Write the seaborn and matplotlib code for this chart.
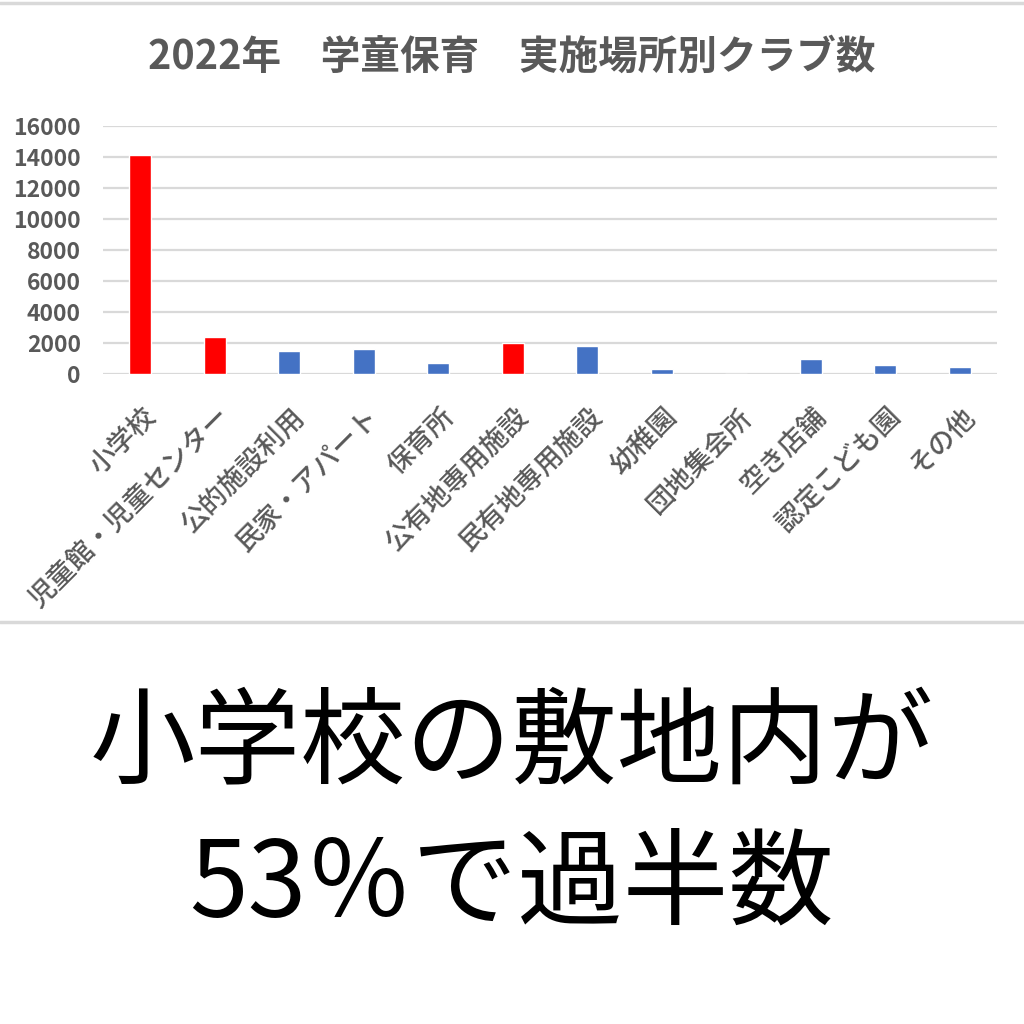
import matplotlib
matplotlib.use("Agg")
import matplotlib.pyplot as plt
import matplotlib.transforms as mtransforms
from matplotlib.lines import Line2D
import seaborn as sns
import pandas as pd

# ---- data ----
categories = ["小学校", "児童館・児童センター", "公的施設利用", "民家・アパート", "保育所",
              "公有地専用施設", "民有地専用施設", "幼稚園", "団地集会所", "空き店舗",
              "認定こども園", "その他"]
clubs = [14100, 2360, 1460, 1590, 690, 1990, 1800, 300, 10, 1000, 600, 440]
highlighted = ["小学校", "児童館・児童センター", "公有地専用施設"]
yticks = [0, 2000, 4000, 6000, 8000, 10000, 12000, 14000, 16000]
title = "2022年\u3000学童保育\u3000実施場所別クラブ数"
caption_line1 = "小学校の敷地内が"
caption_line2 = "53％で過半数"

# ---- style ----
sns.set_theme(style="white")
plt.rcParams['font.family'] = ['Noto Sans CJK JP', 'DejaVu Sans']
RED = "#FF0000"
BLUE = "#4472C4"
GRAY_TXT = "#595959"
GRID = "#D9D9D9"

palette = {c: (RED if c in highlighted else BLUE) for c in categories}
df = pd.DataFrame({"category": categories, "clubs": clubs})

fig = plt.figure(figsize=(10.24, 10.24), dpi=100)
fig.patch.set_facecolor("white")
ax = fig.add_axes([103/1024, 1 - 374/1024, (997 - 103)/1024, (374 - 126)/1024])

sns.barplot(data=df, x="category", y="clubs", hue="category", palette=palette,
            width=0.30, legend=False, ax=ax, saturation=1)

ax.set_ylim(0, 16000)
ax.set_xlim(-0.5, len(categories) - 0.5)
ax.set_yticks(yticks)
ax.set_yticklabels([str(v) for v in yticks])
ax.yaxis.grid(True, color=GRID, linewidth=1.6)
ax.set_axisbelow(True)
for s in ax.spines.values():
    s.set_visible(False)
ax.set_xlabel("")
ax.set_ylabel("")

ax.tick_params(axis="y", length=0, pad=16, labelsize=16.5, labelcolor=GRAY_TXT)
for t in ax.get_yticklabels():
    t.set_fontweight("bold")

ax.tick_params(axis="x", length=0, pad=21, labelsize=19.5, labelcolor=GRAY_TXT)
offset = mtransforms.ScaledTranslation(2/100, 0, fig.dpi_scale_trans)
for t in ax.get_xticklabels():
    t.set_rotation(45)
    t.set_ha("right")
    t.set_va("top")
    t.set_rotation_mode("anchor")
    t.set_fontweight("medium")
    t.set_transform(t.get_transform() + offset)

fig.text(0.5, 1 - 57/1024, title, ha="center", va="center", fontsize=28.5,
         fontweight="bold", color=GRAY_TXT)

# separators
fig.add_artist(Line2D([0, 1], [1 - 3/1024, 1 - 3/1024], transform=fig.transFigure,
                      color=GRID, linewidth=2.5))
fig.add_artist(Line2D([0, 1], [1 - 622/1024, 1 - 622/1024], transform=fig.transFigure,
                      color=GRID, linewidth=2.5))

fig.text(0.5, 1 - 745/1024, caption_line1, ha="center", va="center", fontsize=76,
         color="black")
fig.text(0.5, 1 - 886/1024, caption_line2, ha="center", va="center", fontsize=76,
         color="black")

fig.savefig("out.png", dpi=100, facecolor="white")
